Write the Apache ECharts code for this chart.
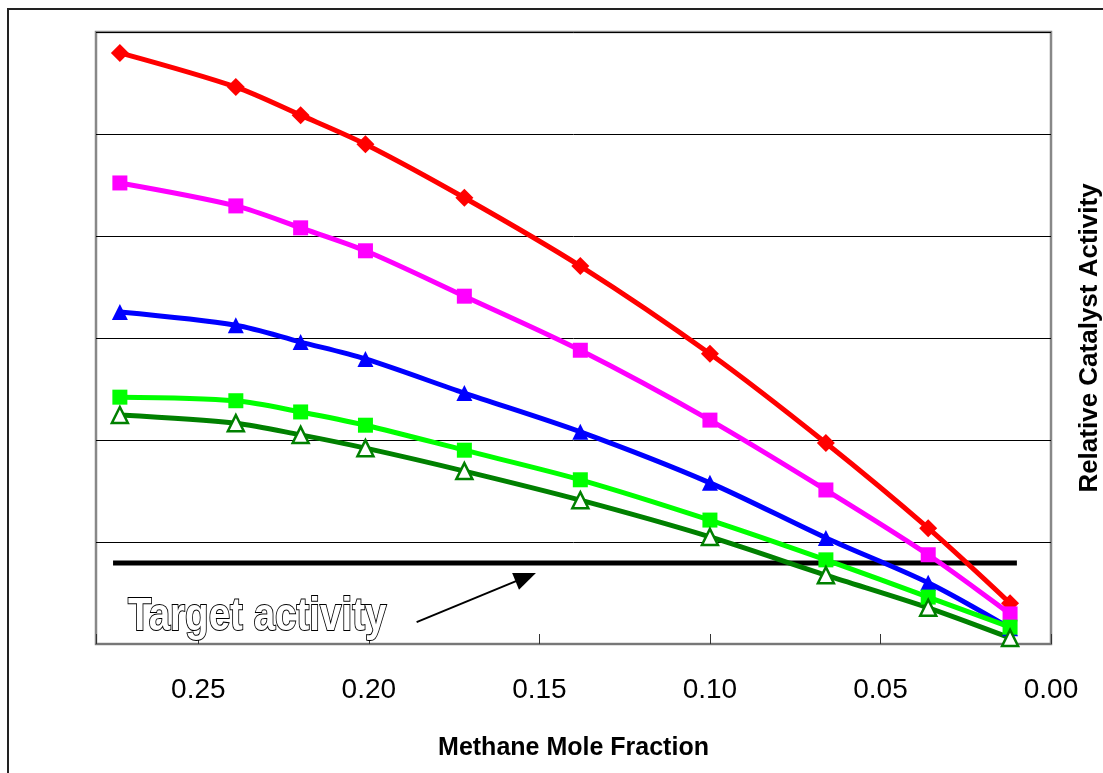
<!DOCTYPE html>
<html>
<head>
<meta charset="utf-8">
<script src="https://cdn.jsdelivr.net/npm/echarts@6/dist/echarts.min.js"></script>
<style>
html,body{margin:0;padding:0;background:#fff;overflow:hidden;}
#chart{width:1103px;height:773px;}
</style>
</head>
<body>
<div id="chart"></div>
<script>
// Methane mole fraction (x)
const methane = [0.273, 0.239, 0.220, 0.201, 0.172, 0.138, 0.100, 0.066, 0.036, 0.012];
// Relative catalyst activity series
const seriesRed     = [1.159, 1.092, 1.037, 0.980, 0.875, 0.741, 0.569, 0.394, 0.227, 0.080];
const seriesMagenta = [0.904, 0.859, 0.816, 0.771, 0.682, 0.576, 0.439, 0.302, 0.175, 0.059];
const seriesBlue    = [0.651, 0.625, 0.592, 0.559, 0.492, 0.416, 0.316, 0.208, 0.120, 0.031];
const seriesLime    = [0.484, 0.477, 0.455, 0.429, 0.380, 0.322, 0.243, 0.165, 0.092, 0.033];
const seriesGreen   = [0.449, 0.433, 0.410, 0.384, 0.339, 0.282, 0.210, 0.135, 0.071, 0.012];
// Target activity line
const targetX = [0.275, 0.010];
const targetY = [0.159, 0.159];
// Arrow annotation (data coords)
const arrowFrom = [0.186, 0.043];
const arrowTo   = [0.154, 0.131];
const xTickLabels = ['0.00', '0.05', '0.10', '0.15', '0.20', '0.25'];

function pairs(xs, ys){ return xs.map((x,i)=>[x, ys[i]]); }

const chart = echarts.init(document.getElementById('chart'), null, {renderer:'canvas'});

function mk(name, data, color, symbol, size, opts){
  return Object.assign({
    name: name, type: 'line', data: pairs(methane, data),
    smooth: 0.3, symbol: symbol, symbolSize: size,
    lineStyle: {color: color, width: 5},
    itemStyle: {color: color},
    z: 3
  }, opts || {});
}

chart.setOption({
  animation: false,
  backgroundColor: '#fff',
  grid: {left: 96, top: 32, right: 52, bottom: 129, show: true, borderColor: '#888', borderWidth: 2.5,
         containLabel: false, outerBoundsMode: 'none'},
  xAxis: {
    type: 'value', inverse: true, min: 0, max: 0.28, interval: 0.05,
    name: 'Methane Mole Fraction', nameLocation: 'middle', nameGap: 92,
    nameTextStyle: {fontFamily: 'Liberation Sans, Arial, sans-serif', fontWeight: 'bold', fontSize: 25, color: '#000'},
    axisLine: {show: true, lineStyle: {color: '#777', width: 2}},
    axisTick: {show: true, inside: true, length: 10, lineStyle: {color: '#333', width: 1}},
    axisLabel: {margin: 32, fontFamily: 'Liberation Sans, Arial, sans-serif', fontSize: 28, color: '#000',
      formatter: v => { const i = Math.round(v/0.05); return xTickLabels[i] !== undefined ? xTickLabels[i] : ''; }},
    splitLine: {show: false}
  },
  yAxis: {
    type: 'value', min: 0, max: 1.2, interval: 0.2, position: 'right',
    name: 'Relative Catalyst Activity', nameLocation: 'middle', nameRotate: 90, nameGap: 26,
    nameTextStyle: {fontFamily: 'Liberation Sans, Arial, sans-serif', fontWeight: 'bold', fontSize: 26, color: '#000'},
    axisLine: {show: false}, axisTick: {show: false}, axisLabel: {show: false},
    splitLine: {show: true, lineStyle: {color: '#000', width: 1}}
  },
  series: [
    mk('Red', seriesRed, '#FF0000', 'diamond', 18),
    mk('Magenta', seriesMagenta, '#FF00FF', 'rect', 15),
    mk('Blue', seriesBlue, '#0000FF', 'triangle', 16),
    mk('Lime', seriesLime, '#00FF00', 'rect', 15),
    mk('Green', seriesGreen, '#008000', 'triangle', 16, {
      itemStyle: {color: '#fff', borderColor: '#008000', borderWidth: 2.5}
    }),
    {
      name: 'Target', type: 'line', data: pairs(targetX, targetY), symbol: 'none',
      lineStyle: {color: '#000', width: 5}, z: 2,
      markLine: {
        silent: true, symbol: ['none', 'triangle'], symbolSize: [18, 22],
        label: {show: false},
        lineStyle: {color: '#000', width: 2, type: 'solid'},
        data: [[{coord: arrowFrom}, {coord: arrowTo}]]
      }
    }
  ],
  graphic: [
    {type: 'rect', shape: {x: 8, y: 9, width: 1200, height: 900},
     style: {fill: 'none', stroke: '#222', lineWidth: 2}, silent: true, z: -1},
    {type: 'text', x: 128, y: 594, scaleX: 0.82, originX: 0,
     style: {text: 'Target activity', font: 'bold 47px "Liberation Sans", Arial, sans-serif',
       fill: '#fff', stroke: '#000', lineWidth: 2}, z: 10}
  ]
});
</script>
</body>
</html>
